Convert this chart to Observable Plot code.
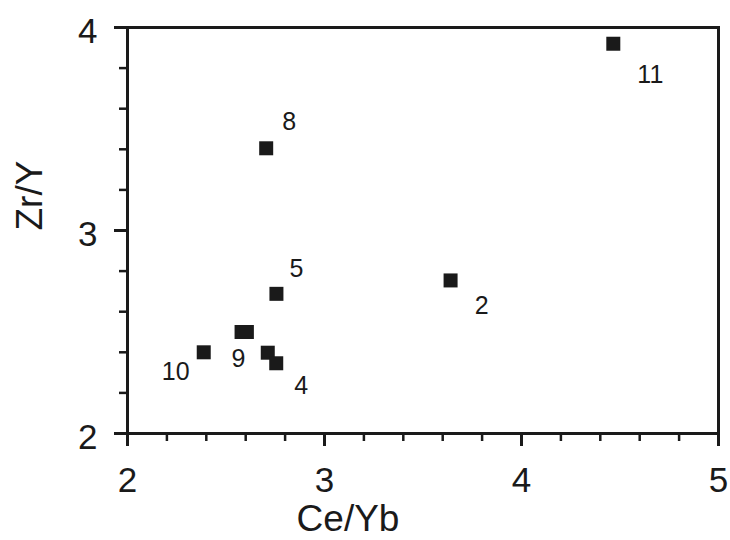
<!DOCTYPE html>
<html>
<head>
<meta charset="utf-8">
<script src="https://cdn.jsdelivr.net/npm/d3@7"></script>
<script src="https://cdn.jsdelivr.net/npm/@observablehq/plot@0.6"></script>
<style>
  html, body { margin: 0; padding: 0; background: #fff; }
  #chart svg { display: block; }
</style>
</head>
<body>
<div id="chart"></div>
<script>
// ---- Data ----
const sampleLabels = ["11", "8", "5", "9", "", "10", "", "4", "2"];
const ceYb = [4.466, 2.704, 2.756, 2.579, 2.606, 2.387, 2.712, 2.755, 3.64];
const zrY  = [3.92, 3.405, 2.688, 2.50, 2.50, 2.40, 2.398, 2.346, 2.754];

const xTicks = [2, 3, 4, 5];
const yTicks = [2, 3, 4];
const xMinorTicks = [2.2, 2.4, 2.6, 2.8, 3.2, 3.4, 3.6, 3.8, 4.2, 4.4, 4.6, 4.8];
const yMinorTicks = [2.2, 2.4, 2.6, 2.8, 3.2, 3.4, 3.6, 3.8];
const xTitle = "Ce/Yb";
const yTitle = "Zr/Y";

const points = sampleLabels.map((label, i) => ({label, ce: ceYb[i], zr: zrY[i]}));

// ---- Label placement (pixel offsets from each square) ----
const labelOffsets = {
  "11": [37, 31], "8": [23, -26], "5": [20, -25], "9": [-3, 27],
  "10": [-28, 20], "4": [25, 23], "2": [31, 26]
};

const ink = "#1a1a1a";
const font = "'Liberation Sans', Arial, Helvetica, sans-serif";

const labelMarks = points
  .filter(d => d.label !== "")
  .map(d => Plot.text([d], {
    x: "ce", y: "zr", text: "label",
    dx: labelOffsets[d.label][0], dy: labelOffsets[d.label][1],
    fontSize: 25, fill: ink, textAnchor: "middle", lineAnchor: "middle"
  }));

const chart = Plot.plot({
  width: 730,
  height: 540,
  marginLeft: 127,
  marginRight: 12,
  marginTop: 27,
  marginBottom: 107,
  style: {fontFamily: font, background: "#fff", color: ink},
  x: {domain: [2, 5]},
  y: {domain: [2, 4]},
  marks: [
    // minor ticks
    Plot.axisX({ticks: xMinorTicks, tickSize: 8, strokeWidth: 2.5, stroke: ink, tickFormat: () => "", label: null}),
    Plot.axisY({ticks: yMinorTicks, tickSize: 8, strokeWidth: 2.5, stroke: ink, tickFormat: () => "", label: null}),
    // major ticks
    Plot.axisX({ticks: xTicks, tickSize: 13, strokeWidth: 3, stroke: ink, tickFormat: () => "", label: null}),
    Plot.axisY({ticks: yTicks, tickSize: 13, strokeWidth: 3, stroke: ink, tickFormat: () => "", label: null}),
    // tick labels
    Plot.axisX({ticks: xTicks, tickSize: 0, tickPadding: 34, fontSize: 35, fill: ink, tickFormat: d => String(d), label: null}),
    Plot.axisY({ticks: yTicks, tickSize: 0, tickPadding: 30, fontSize: 35, fill: ink, dy: 4, tickFormat: d => String(d), label: null}),
    // frame
    Plot.frame({stroke: ink, strokeWidth: 3}),
    // axis titles
    Plot.text([xTitle], {frameAnchor: "bottom", dx: -75, dy: 86, fontSize: 37, fill: ink, lineAnchor: "middle"}),
    Plot.text([yTitle], {frameAnchor: "left", dx: -97, rotate: -90, fontSize: 37, fill: ink, lineAnchor: "middle"}),
    // data squares
    Plot.dot(points, {x: "ce", y: "zr", symbol: "square", r: 7.9, fill: ink, stroke: "none"}),
    ...labelMarks
  ]
});

document.getElementById("chart").append(chart);
</script>
</body>
</html>
